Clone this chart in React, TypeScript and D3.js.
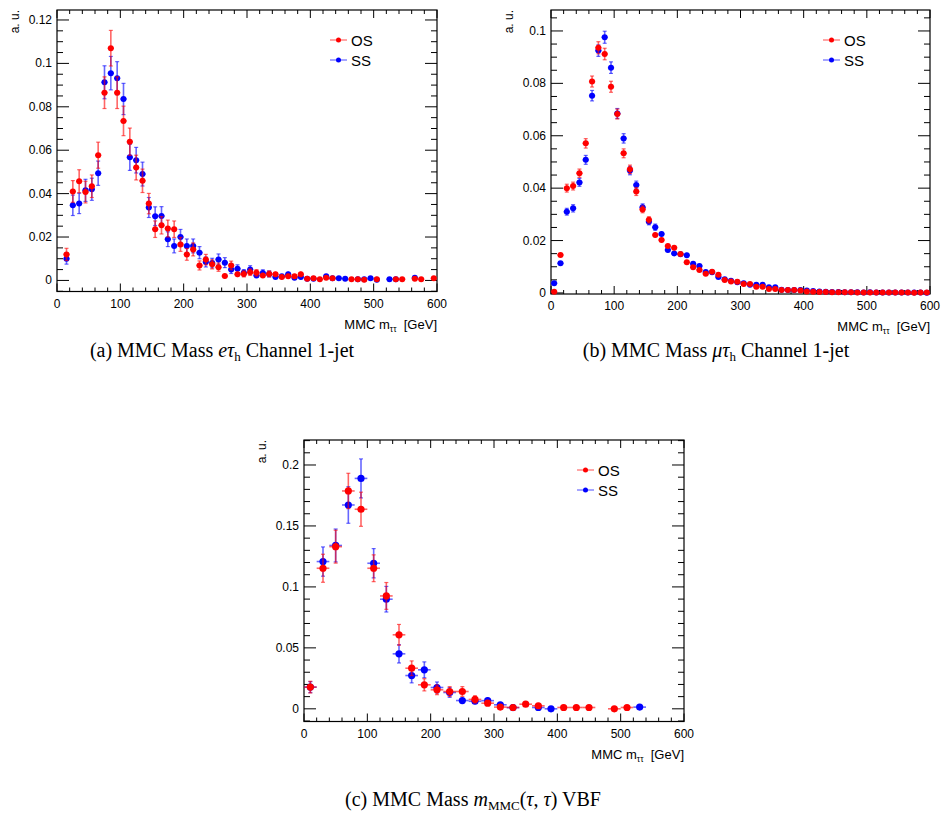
import React from "react";
import * as d3 from "d3";

// ---------- Panel (a): e-tau_h channel 1-jet ----------
const massA = [15,25,35,45,55,65,75,85,95,105,115,125,135,145,155,165,175,185,195,205,215,225,235,245,255,265,275,285,295,305,315,325,335,345,355,365,375,385,395,405,415,425,435,445,455,465,475,485,495,505,515,525,535,545,555,565,575,585,595];
const osA = [0.012,0.041,0.0457,0.0407,0.0434,0.0577,0.0865,0.107,0.0865,0.0735,
  0.0639,0.052,0.0459,0.0354,0.0236,0.0254,0.0239,0.0236,0.0166,0.012,
  0.0143,0.0069,0.0096,0.0074,0.0061,0.002,0.0069,0.0028,0.003,0.0038,
  0.0035,0.0023,0.003,0.0028,0.0016,0.0019,0.0019,0.0028,0.0008,0.001,
  0.0005,0.0012,0.001,null,null,0.0005,0.0006,0.0003,null,0.0006,
  null,null,0.0006,0.0006,null,0.0008,0.0006,null,0.001];
const osErrA = [0.0028,0.005,0.0053,0.005,0.0052,0.006,0.0073,0.0082,0.0073,0.0068,
  0.0063,0.0057,0.0054,0.0047,0.0038,0.004,0.0039,0.0038,0.0032,0.0027,
  0.003,0.0021,0.0024,0.0021,0.0019,0.0011,0.002,0.0013,0.0014,0.0015,
  0.0015,0.0012,0.0014,0.0013,0.001,0.0011,0.0011,0.0013,0.0007,0.0008,
  0.0006,0.0009,0.0008,null,null,0.0006,0.0006,0.0004,null,0.0006,
  null,null,0.0006,0.0006,null,0.0007,0.0006,null,0.0008];
const ssA = [0.010,0.0346,0.0355,0.0415,0.042,0.0494,0.0913,0.0955,0.0932,0.0836,
  0.0567,0.0554,0.049,0.0336,0.0296,0.0297,0.019,0.0159,0.020,0.0159,
  0.0159,0.0128,0.0085,0.008,0.0097,0.0082,0.005,0.0054,0.0035,0.005,
  0.0023,0.0034,0.003,0.0016,0.0019,0.0028,0.0012,0.0016,0.0008,0.0008,
  null,0.0019,0.001,0.001,0.0008,null,0.0006,0.0006,0.001,0.0003,
  null,0.0006,0.0006,null,null,0.0012,null,null,null];
const ssErrA = [0.0025,0.0047,0.0047,0.0051,0.0051,0.0056,0.0076,0.0077,0.0076,0.0072,
  0.006,0.0059,0.0055,0.0046,0.0043,0.0043,0.0034,0.0032,0.0035,0.0032,
  0.0032,0.0028,0.0023,0.0022,0.0025,0.0023,0.0018,0.0018,0.0015,0.0018,
  0.0012,0.0015,0.0014,0.001,0.0011,0.0013,0.0009,0.001,0.0007,0.0007,
  null,0.0011,0.0008,0.0008,0.0007,null,0.0006,0.0006,0.0008,0.0004,
  null,0.0006,0.0006,null,null,0.0009,null,null,null];

// ---------- Panel (b): mu-tau_h channel 1-jet ----------
const massB = [5,15,25,35,45,55,65,75,85,95,105,115,125,135,145,155,165,175,185,195,205,215,225,235,245,255,265,275,285,295,305,315,325,335,345,355,365,375,385,395,405,415,425,435,445,455,465,475,485,495,505,515,525,535,545,555,565,575,585,595];
const osB = [0.0005,0.0145,0.040,0.0408,0.0457,0.0571,0.0807,0.0936,0.0912,0.0787,
  0.0683,0.0533,0.0472,0.0387,0.0319,0.0279,0.0221,0.0202,0.0179,0.0173,
  0.0149,0.0117,0.0098,0.0088,0.0073,0.0081,0.0069,0.0049,0.0044,0.0043,
  0.0034,0.0034,0.0024,0.0024,0.0015,0.0015,0.0011,0.0011,0.0011,0.0009,
  0.0006,0.0005,0.0004,0.0004,0.0003,0.0003,0.0003,0.0003,0.0002,0.0002,
  0.0002,0.0002,0.0002,0.0002,0.0002,0.0002,0.0002,0.0001,0.0002,0.0002];
const osErrB = [0.0003,0.0009,0.0015,0.0015,0.0016,0.0018,0.0021,0.0023,0.0022,0.0021,
  0.0019,0.0017,0.0016,0.0015,0.0013,0.0012,0.0011,0.0011,0.001,0.001,
  0.0009,0.0008,0.0007,0.0007,0.0006,0.0007,0.0006,0.0005,0.0005,0.0005,
  0.0004,0.0004,0.0004,0.0004,0.0003,0.0003,0.0002,0.0002,0.0002,0.0002,
  0.0002,0.0002,0.0001,0.0001,0.0001,0.0001,0.0001,0.0001,0.0001,0.0001,
  0.0001,0.0001,0.0001,0.0001,0.0001,0.0001,0.0001,0.0001,0.0001,0.0001];
const ssB = [0.0037,0.0113,0.031,0.0323,0.0422,0.0508,0.0753,0.0925,0.0976,0.086,
  0.0685,0.059,0.0467,0.0412,0.0327,0.0272,0.0251,0.0225,0.0164,0.0151,
  0.0148,0.0144,0.0111,0.0103,0.008,0.0079,0.0061,0.0052,0.0047,0.0041,
  0.0037,0.0031,0.0031,0.0031,0.0022,0.0022,0.0012,0.0011,0.0011,0.0011,
  0.0009,0.0007,0.0006,0.0005,0.0004,0.0004,0.0003,0.0003,0.0003,0.0002,
  0.0003,0.0002,0.0002,0.0002,0.0002,0.0002,0.0002,0.0002,0.0002,0.0001];
const ssErrB = [0.0005,0.0008,0.0013,0.0014,0.0015,0.0017,0.002,0.0022,0.0023,0.0022,
  0.0019,0.0018,0.0016,0.0015,0.0013,0.0012,0.0012,0.0011,0.001,0.0009,
  0.0009,0.0009,0.0008,0.0007,0.0006,0.0006,0.0006,0.0005,0.0005,0.0005,
  0.0004,0.0004,0.0004,0.0004,0.0003,0.0003,0.0002,0.0002,0.0002,0.0002,
  0.0002,0.0002,0.0001,0.0001,0.0001,0.0001,0.0001,0.0001,0.0001,0.0001,
  0.0001,0.0001,0.0001,0.0001,0.0001,0.0001,0.0001,0.0001,0.0001,0.0001];

// ---------- Panel (c): VBF ----------
const massC = [10,30,50,70,90,110,130,150,170,190,210,230,250,270,290,310,330,350,370,390,410,430,450,470,490,510,530];
const osC = [0.0178,0.1153,0.133,0.1787,0.1637,0.1153,0.0926,0.0607,0.0333,0.0197,
  0.0156,0.0142,0.0142,0.0077,0.0046,0.0014,0.0011,0.0038,0.0025,null,
  0.0011,0.0011,0.0011,null,0.0,0.0011,null];
const osErrC = [0.0048,0.0115,0.0135,0.0145,0.014,0.011,0.011,0.0085,0.006,0.005,
  0.004,0.004,0.004,0.003,0.002,0.001,0.001,0.002,0.0015,null,
  0.001,0.001,0.001,null,0.0005,0.001,null];
const ssC = [0.0178,0.1208,0.134,0.1672,0.189,0.1194,0.0899,0.0451,0.0273,0.032,
  0.0175,0.0134,0.0068,0.0062,0.0067,0.0033,0.001,null,0.0011,0.0,
  null,null,null,null,null,null,0.0014];
const ssErrC = [0.0045,0.012,0.0135,0.015,0.016,0.012,0.0105,0.0075,0.006,0.0065,
  0.0045,0.004,0.0025,0.0025,0.0028,0.002,0.001,null,0.001,0.0005,
  null,null,null,null,null,null,0.001];

const seriesNames = ["OS", "SS"];
const seriesColors = ["#ff0000", "#0000ff"];
const xTickValues = [0, 100, 200, 300, 400, 500, 600];

const SANS = "'Liberation Sans', Arial, Helvetica, sans-serif";
const SERIF = "'Liberation Serif', 'Times New Roman', Times, serif";

type PanelProps = {
  x0: number; x1: number; y0: number; y1: number;
  yDomain: [number, number];
  yMajorStep: number; yMinorStep: number; yMajorMax: number;
  halfBin: number; r: number;
  mass: number[];
  os: (number | null)[]; osErr: (number | null)[];
  ss: (number | null)[]; ssErr: (number | null)[];
};

function Points({ mass, vals, errs, color, x, y, halfBin, r }: any) {
  return (
    <g>
      {mass.map((m: number, i: number) => {
        const v = vals[i];
        if (v === null || v === undefined) return null;
        const e = errs[i] ?? 0;
        const cx = x(m), cy = y(v);
        const yt = y(v + e), yb = y(v - e);
        return (
          <g key={i}>
            <line x1={x(m - halfBin)} x2={x(m + halfBin)} y1={cy} y2={cy} stroke={color} strokeWidth={1.6} strokeOpacity={0.6} />
            <line x1={cx} x2={cx} y1={yt} y2={yb} stroke={color} strokeWidth={1.6} strokeOpacity={0.6} />
            {Math.abs(yb - yt) > 2 * r && (
              <g>
                <line x1={cx - 2} x2={cx + 2} y1={yt} y2={yt} stroke={color} strokeWidth={1.2} strokeOpacity={0.6} />
                <line x1={cx - 2} x2={cx + 2} y1={yb} y2={yb} stroke={color} strokeWidth={1.2} strokeOpacity={0.6} />
              </g>
            )}
            <circle cx={cx} cy={cy} r={r} fill={color} />
          </g>
        );
      })}
    </g>
  );
}

function Panel(p: PanelProps) {
  const x = d3.scaleLinear().domain([0, 600]).range([p.x0, p.x1]);
  const y = d3.scaleLinear().domain(p.yDomain).range([p.y1, p.y0]);
  const eps = 1e-9;
  const yMajor = d3.range(0, p.yMajorMax + eps, p.yMajorStep);
  const yMinor = d3.range(Math.ceil((p.yDomain[0] - eps) / p.yMinorStep) * p.yMinorStep, p.yDomain[1], p.yMinorStep)
    .filter((v) => Math.abs(v / p.yMajorStep - Math.round(v / p.yMajorStep)) > 1e-6);
  const xMinor = d3.range(0, 601, 20).filter((v) => v % 100 !== 0);
  const fmtY = (v: number) => String(+v.toFixed(3));
  const tk = { stroke: "#000", strokeWidth: 1 };
  return (
    <g>
      {yMajor.map((v, i) => (
        <g key={"ym" + i}>
          <line x1={p.x0} x2={p.x0 + 12} y1={y(v)} y2={y(v)} {...tk} />
          <line x1={p.x1} x2={p.x1 - 12} y1={y(v)} y2={y(v)} {...tk} />
          <text x={p.x0 - 5} y={y(v)} textAnchor="end" dominantBaseline="central" fontSize={12} fontFamily={SANS} fill="#000">{fmtY(v)}</text>
        </g>
      ))}
      {yMinor.map((v, i) => (
        <g key={"yn" + i}>
          <line x1={p.x0} x2={p.x0 + 6} y1={y(v)} y2={y(v)} {...tk} />
          <line x1={p.x1} x2={p.x1 - 6} y1={y(v)} y2={y(v)} {...tk} />
        </g>
      ))}
      {xTickValues.map((v, i) => (
        <g key={"xm" + i}>
          <line x1={x(v)} x2={x(v)} y1={p.y1} y2={p.y1 - 8} {...tk} />
          <line x1={x(v)} x2={x(v)} y1={p.y0} y2={p.y0 + 8} {...tk} />
          <text x={x(v)} y={p.y1 + 16} textAnchor="middle" fontSize={12} fontFamily={SANS} fill="#000">{v}</text>
        </g>
      ))}
      {xMinor.map((v, i) => (
        <g key={"xn" + i}>
          <line x1={x(v)} x2={x(v)} y1={p.y1} y2={p.y1 - 4} {...tk} />
          <line x1={x(v)} x2={x(v)} y1={p.y0} y2={p.y0 + 4} {...tk} />
        </g>
      ))}
      <rect x={p.x0} y={p.y0} width={p.x1 - p.x0} height={p.y1 - p.y0} fill="none" stroke="#000" strokeWidth={1.2} />
      <Points mass={p.mass} vals={p.ss} errs={p.ssErr} color={seriesColors[1]} x={x} y={y} halfBin={p.halfBin} r={p.r} />
      <Points mass={p.mass} vals={p.os} errs={p.osErr} color={seriesColors[0]} x={x} y={y} halfBin={p.halfBin} r={p.r} />
      <text x={p.x1} y={p.y1 + 37} textAnchor="end" fontSize={13} fontFamily={SANS} fill="#000">
        MMC m<tspan fontSize={8.5} dy={3}>ττ</tspan><tspan dy={-3}>{"\u00a0\u00a0[GeV]"}</tspan>
      </text>
      <text transform={`translate(${p.x0 - 38},${p.y0}) rotate(-90)`} textAnchor="end" fontSize={12} fontFamily={SANS} fill="#000">a. u.</text>
      {seriesNames.map((n, i) => {
        const lx = p.x1 - 107, ly = p.y0 + 30 + i * 20;
        return (
          <g key={n}>
            <line x1={lx} x2={lx + 17} y1={ly} y2={ly} stroke={seriesColors[i]} strokeWidth={1} strokeOpacity={0.7} />
            <circle cx={lx + 8.5} cy={ly} r={2.5} fill={seriesColors[i]} />
            <text x={lx + 21} y={ly} dominantBaseline="central" fontSize={15} fontFamily={SANS} fill="#000">{n}</text>
          </g>
        );
      })}
    </g>
  );
}

export default function App() {
  return (
    <svg width={946} height={821} style={{ position: "absolute", left: 0, top: 0, background: "#fff" }}>
      <rect x={0} y={0} width={946} height={821} fill="#fff" />
      <Panel x0={57} x1={437} y0={10} y1={291.5} yDomain={[-0.0051, 0.1246]} yMajorStep={0.02} yMinorStep={0.005} yMajorMax={0.12}
        halfBin={5} r={3} mass={massA} os={osA} osErr={osErrA} ss={ssA} ssErr={ssErrA} />
      <Panel x0={551} x1={930} y0={10} y1={294} yDomain={[-0.0004, 0.108]} yMajorStep={0.02} yMinorStep={0.005} yMajorMax={0.1}
        halfBin={5} r={3} mass={massB} os={osB} osErr={osErrB} ss={ssB} ssErr={ssErrB} />
      <Panel x0={304} x1={684} y0={440} y1={721.5} yDomain={[-0.0104, 0.2205]} yMajorStep={0.05} yMinorStep={0.01} yMajorMax={0.2}
        halfBin={10} r={3.6} mass={massC} os={osC} osErr={osErrC} ss={ssC} ssErr={ssErrC} />
      <text x={222} y={357} textAnchor="middle" fontSize={20} fontFamily={SERIF} fill="#000">
        (a) MMC Mass <tspan fontStyle="italic">eτ</tspan><tspan fontSize={13} dy={4}>h</tspan><tspan dy={-4}> Channel 1-jet</tspan>
      </text>
      <text x={716} y={357} textAnchor="middle" fontSize={20} fontFamily={SERIF} fill="#000">
        (b) MMC Mass <tspan fontStyle="italic">μτ</tspan><tspan fontSize={13} dy={4}>h</tspan><tspan dy={-4}> Channel 1-jet</tspan>
      </text>
      <text x={473} y={806} textAnchor="middle" fontSize={20} fontFamily={SERIF} fill="#000">
        (c) MMC Mass <tspan fontStyle="italic">m</tspan><tspan fontSize={13} dy={4}>MMC</tspan><tspan dy={-4}>(</tspan><tspan fontStyle="italic">τ</tspan>, <tspan fontStyle="italic">τ</tspan>) VBF
      </text>
    </svg>
  );
}
